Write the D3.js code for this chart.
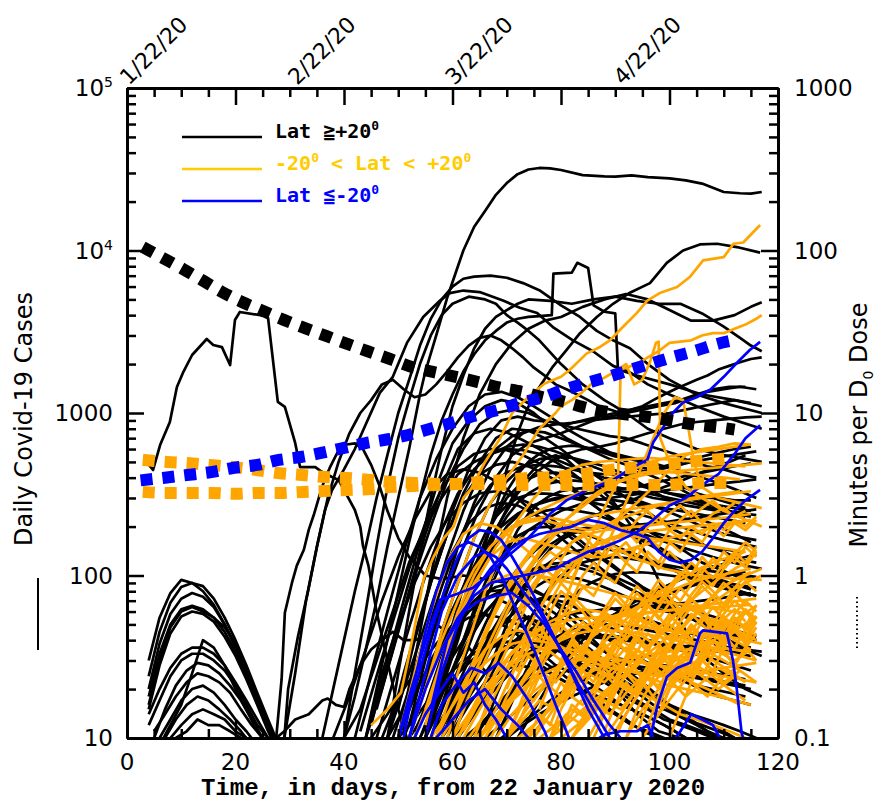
<!DOCTYPE html>
<html>
<head>
<meta charset="utf-8">
<script src="https://cdn.jsdelivr.net/npm/d3@7"></script>
<style>
  body { margin: 0; background: #fff; }
  svg { display: block; }
</style>
</head>
<body>
<svg id="chart" width="877" height="805"></svg>
<script>
// ---------------- axes / labels ----------------
const xMajorTicks = [0, 20, 40, 60, 80, 100, 120];
const xMinorTicks = [5, 10, 15, 25, 30, 35, 45, 50, 55, 65, 70, 75, 85, 90, 95, 105, 110, 115];
const dateLabels = ["1/22/20", "2/22/20", "3/22/20", "4/22/20"];
const dateDays = [0, 31, 60, 91];
const caseTicks = [10, 100, 1000, 1e4, 1e5];
const caseTickText = [["10", ""], ["100", ""], ["1000", ""], ["10", "4"], ["10", "5"]];
const doseTicks = [0.1, 1, 10, 100, 1000];
const doseTickText = ["0.1", "1", "10", "100", "1000"];

// ---------------- dose curves (right axis, minutes per D0 dose) ----------------
const doseNorth = [[2.9,105],[6.6,90],[10.3,77],[13.8,65.8],[17.5,55.6],[21.2,48.2],[25.1,42.4],[28.9,37.4],[32.8,33.3],[36.7,29.8],[40.6,26.6],[44.5,23.9],[48.5,21.5],[52.5,19.2],[56.4,17.9],[60.6,16.7],[64.7,15.5],[68.8,14.3],[72.8,13.5],[76.7,12.5],[80.7,11.7],[85,10.7],[89,10.1],[93.3,9.7],[97.7,9.3],[101.6,8.8],[105.6,8.4],[109.7,8.1],[112,7.9]];
const doseSouth = [[2.5,3.85],[7,4.0],[11,4.15],[15.5,4.33],[19.5,4.59],[24,4.79],[28,5.14],[32,5.36],[36.5,5.75],[40,6.1],[44,6.53],[48.5,6.92],[52.5,7.43],[56.4,8.09],[60.4,8.81],[64.5,9.7],[68.2,10.4],[72.4,11.5],[76.7,12.5],[80.5,13.9],[84.8,15.3],[88.7,16.7],[92.7,18.4],[96.9,20.3],[100.6,22.1],[104.7,24.1],[108.8,26.6],[112,28.1]];
const doseTropicA = [[2.9,5.14],[7.4,5.0],[11.2,4.92],[15.3,4.79],[19.5,4.65],[23.9,4.46],[27.8,4.27],[32.3,4.15],[36.5,4.04],[40.6,3.98],[45,3.87],[49,3.76],[53.3,3.71],[57.4,3.66],[60.4,3.66],[65,3.76],[70,3.87],[74,3.98],[78.5,4.04],[82.7,4.15],[86.8,4.33],[90,4.52],[95,4.65],[99,4.79],[103.4,5.0],[107.5,5.14],[111.2,5.28]];
const doseTropicB = [[2.9,3.27],[7.4,3.22],[11.6,3.22],[15.7,3.22],[19.9,3.18],[24.1,3.22],[28.2,3.22],[32.3,3.27],[36.5,3.31],[40.6,3.36],[45,3.41],[49,3.51],[53.1,3.56],[57.4,3.61],[61.5,3.66],[66,3.66],[70,3.61],[75,3.61],[80,3.61],[85,3.61],[90,3.61],[95,3.61],[99,3.61],[103.4,3.66],[107.5,3.71],[111.2,3.71]];

// ---------------- daily cases, Lat >= +20 (black) ----------------
// early winter humps: [firstDay, stepDays, values...]
const northEarly = [
  [4,2, 30,55,78,94,90,80,66,50,36,25,17,12,9],
  [4,2, 24,45,68,85,90,86,72,55,40,28,19,13,9],
  [4,2, 20,38,58,72,78,74,64,50,37,26,18,12,9],
  [4,2, 18,33,50,62,65,62,55,45,34,24,17,12,8],
  [4,2, 16,30,48,60,64,60,55,48,38,27,18,12,9],
  [4,2, 15,28,44,56,60,58,52,42,32,23,16,11,8],
  [4,2, 14,20,27,33,36,36,33,28,22,17,13,10,8],
  [4,2, 12,17,24,30,33,33,30,26,21,16,12,10,8],
  [5,2, 10,15,21,26,29,28,25,21,17,13,10,8],
  [5,2, 11,14,18,22,25,24,22,19,15,12,10,8],
  [6,2, 10,13,17,20,21,19,16,13,11,9],
  [7,2, 10,13,16,18,17,15,13,11,9],
  [8,2, 10,12,14,15,14,13,11,10,9],
  [9,2, 10,11,13,12,12,11,10,9],
  [6,2, 9,12,16,25,40,36,28,20,15,11,9]
];
const northMajor = [
  [[3.3,514],[4.8,446],[6.1,635],[7.9,881],[9.2,1445],[10.3,1763],[12,2275],[14.7,2853],[15.9,2620],[17.5,2545],[19,1973],[19.9,3733],[20.8,4185],[25.4,3955],[26,3845],[27.8,1170],[29.1,1090],[31,654],[31.9,465],[34.7,465],[35.9,435],[37.7,405],[39,387],[40,336],[42,253],[43,200],[43.5,152],[44.5,115],[46,60],[48,30],[50,15],[52,9]],
  [[40,10],[42,18],[44,35],[46,70],[48,150],[50,300],[52,600],[54,1300],[55,1800],[57,3000],[59,5100],[61,8000],[62,10000],[64,14000],[66,17500],[68,22000],[70,26000],[72,29500],[74,31500],[76,32200],[78,32000],[80,31300],[84,29100],[88,28600],[90,28500],[93,29000],[96,28300],[100,27800],[103,27000],[106,25800],[108,24300],[110,22900],[113,22500],[115,22400],[117,22900]],
  [[29,10],[29.7,20],[31.5,42],[33.4,81],[35,150],[36.5,253],[37.8,336],[40,450],[42,600],[44,850],[46.6,1330],[49,1670],[51.6,2700],[54.6,3900],[57.7,4920],[59.5,5470],[62,5670],[65,5550],[69.3,4920],[72.4,4440],[75.6,4120],[78.5,3380],[82.2,2800],[85.9,2400],[89.6,1950],[92.7,1780],[96,1500],[100,1300],[105,1100],[110,950],[117,800]],
  [[36,10],[38,20],[40,40],[42,80],[44,150],[46,300],[48,550],[50,1000],[52,1600],[54,2600],[56,3800],[58,5000],[60,6000],[62,6700],[64,6900],[67,7000],[70,6800],[73,6300],[76,5700],[80,4600],[83.5,3900],[86.6,3200],[89.6,2800],[92.7,2500],[96,2000],[100,1600],[105,1300],[110,1150],[117,1000]],
  [[40,10],[42,25],[44,60],[46,150],[48,350],[50,700],[52,1200],[54,2000],[56,3000],[58,4000],[60,4700],[63,5200],[66,5000],[68,4700],[70,4000],[72,3600],[74,3200],[76,2800],[80,2000],[84,1500],[88,1200],[92,1000],[96,800],[100,700],[105,600],[110,550],[117,500]],
  [[44,10],[46,20],[48,40],[50,80],[52,160],[54,300],[56,550],[58,900],[60,1300],[62,1800],[64,2300],[66,2800],[68,3200],[70,3600],[72,3800],[74,3900],[76,3950],[78.3,4000],[78.6,7200],[82,7300],[83,8400],[85,7800],[86,4600],[88,4200],[90,4100],[90.5,1850],[94,1700],[100,1500],[106,1300],[112,1200],[117,1100]],
  [[55,10],[58,20],[61,40],[64,90],[67,200],[70,450],[72,750],[73.7,1050],[76,1440],[78.5,1930],[81,2440],[83.5,3100],[86.6,3900],[89.6,4700],[92.7,5500],[96.4,6300],[99.5,8400],[102.5,10000],[105.6,10900],[108.8,11000],[112.4,10500],[116.7,9700]],
  [[48,10],[50,25],[52,60],[54,140],[56,300],[58,600],[60,1100],[62,1700],[64,2500],[66,3300],[68,3900],[70,4300],[72,4700],[74,5000],[78,4900],[82,4700],[86,5000],[90,5200],[94,4900],[98,4700],[102,4700],[106,4100],[110,3400],[113,2900],[115,2600],[117,2400]],
  [[50,10],[53,30],[56,100],[59,300],[62,700],[65,1300],[68,2000],[71,2700],[74,3300],[77,3700],[80,3900],[84,4500],[88,5000],[92,5400],[96,5000],[100,4300],[104,3700],[108,3700],[112,4000],[115,4500],[117,4800]],
  [[29,10],[31,25],[33,70],[35,150],[37,300],[39,500],[41,750],[43,1000],[45,1200],[47,1500],[49,1600],[51,1400],[53,1250],[55,1300],[57,1500],[59,1800],[61,2200],[63,2600],[65,2900],[67,3000],[69,2800],[71,2500],[73,2200],[75,1900],[77,1700],[79,1500],[81,1400],[83,1300],[85,1200],[87,1100],[89,1050],[91,1000],[93,1050],[95,1100],[97,1200],[99,1300],[101,1400],[103,1500],[105,1600],[107,1700],[109,1850],[111,1950],[113,2050],[115,2150],[117,2200]],
  [[27.5,10],[28.5,23],[29.1,59],[30.4,90],[31.3,115],[32.6,144],[33.5,191],[34.5,240],[35.6,320],[36.4,387],[37.5,470],[39,590],[40.5,640],[42,650],[43.5,600],[45,480],[46.5,360],[48,250],[50,170],[52,130],[55,100],[58,95],[62,100],[66,95],[70,90],[74,75],[78,55],[82,40],[86,30],[90,20],[94,14],[98,11],[102,10],[106,9]],
  [[27.5,10],[29,11],[31,13],[33.5,14],[36,17],[37,17.5],[38.5,16],[40,15.5],[41,20],[43,28],[45,35],[47,40],[49,45],[51,40],[53,40],[55,42],[57,50],[59,45],[61,55],[63,80],[65,120],[67,170],[69,220],[71,300],[73,380],[75,450],[77,520],[79,550],[81,520],[83,450],[85,400],[87,350],[89,300],[91,250],[93,200],[95,150],[97,110],[99,80],[101,60],[104,40],[107,30],[110,25],[114,20],[117,18]]
];
// mid-level and low-level northern curves: [firstDay, stepDays, values...]
const northMid = [
  [42,3, 10,25,60,140,300,520,800,1100,1300,1350,1250,1100,950,800,700,620,550,480,420,380,340,300,270,250,230],
  [44,3, 10,20,45,100,200,380,600,850,1000,1050,1000,900,850,800,760,720,700,650,600,560,500,470,450,420,400],
  [45,3, 12,30,70,160,350,650,900,1100,1200,1150,1000,820,700,620,580,540,520,480,420,360,320,300,280,260],
  [47,3, 10,18,40,90,180,320,500,700,800,780,700,600,500,420,360,300,260,220,190,170,150,140,125,120],
  [48,3, 10,25,55,120,250,450,700,900,950,900,880,850,900,950,1000,1050,1100,1150,1200,1300,1400,1450,1450],
  [50,3, 10,20,40,80,150,260,400,550,650,700,750,820,900,950,1000,1050,1100,1150,1250,1350,1400,1450,1400],
  [46,3, 15,35,80,180,350,600,750,800,760,680,600,520,470,430,400,380,360,340,320,310,300,300,290,290],
  [50,3, 10,25,60,130,250,420,600,720,780,760,700,640,580,520,480,460,450,470,500,520,540,560,580],
  [52,3, 10,20,45,90,170,280,380,470,520,540,530,500,470,430,380,330,290,250,220,200,180,160,150],
  [40,3, 10,15,30,60,120,200,300,420,500,560,600,590,560,500,430,360,300,250,210,180,160,140,120,110,100,95],
  [38,3, 10,18,35,70,130,220,330,420,450,430,380,320,260,210,170,140,120,100,85,75,65,60,55,50,45,42,40],
  [52,3, 12,30,70,150,280,450,620,750,820,850,870,900,920,940,960,980,1000,1050,1100,1150,1200,1150],
  [55,3, 10,25,55,110,200,300,380,420,430,410,380,350,330,320,300,290,270,260,250,240,230,220],
  [54,3, 10,18,35,70,130,220,320,420,500,560,600,620,650,700,750,800,850,880,900,920,940,950],
  [50,3, 15,40,90,180,300,420,480,500,470,420,370,320,270,230,200,170,150,130,115,100,90,80,75],
  [56,3, 10,20,40,70,110,150,190,220,250,270,290,300,310,320,330,340,350,360,370,380,390],
  [44,3, 10,25,50,90,150,220,280,320,330,310,280,240,200,170,140,120,100,85,75,65,55,50,45,42,40],
  [48,3, 10,20,40,80,140,210,260,280,270,240,210,180,150,130,110,95,80,70,60,52,45,40,35,32],
  [53,3, 10,20,40,70,110,160,200,230,250,260,250,240,220,200,190,180,170,160,150,145,140],
  [57,3, 10,18,30,50,80,110,140,170,200,220,240,260,290,320,350,380,420,460,500,550],
  [46,3, 10,22,48,100,190,320,450,560,620,640,620,580,530,480,440,400,370,340,320,300,280,270,260,250,245],
  [49,3, 10,20,42,85,160,260,360,430,470,480,470,450,430,420,420,430,450,480,510,540,570,600,620],
  [51,3, 10,18,34,62,100,150,200,240,270,290,300,300,295,290,280,270,260,250,240,230,220,210],
  [43,3, 11,24,52,110,210,340,470,560,600,590,550,490,420,350,290,240,200,170,150,130,115,105,95,88,82],
  [55,3, 10,22,45,85,140,200,250,280,300,310,320,330,340,350,370,390,410,430,450,470,490],
  [60,2, 40,60,90,130,180,230,280,320,350,370,380,385,380,370,360,350,340,330,320,310,300,290,280,270,260,250,245,240,235],
  [62,2, 30,45,70,100,140,190,240,280,310,330,340,345,340,330,320,305,290,275,260,245,230,215,200,190,180,175,170,165],
  [58,2, 20,35,60,100,160,240,330,420,500,560,600,620,630,620,600,580,560,540,520,500,480,460,440,420,400,380,360,340,320,300],
  [64,2, 15,22,34,50,70,95,120,145,165,180,190,195,198,200,202,205,208,210,215,220,225,230,235,240,245,250,255],
  [56,2, 15,28,50,85,130,180,230,270,300,315,320,318,310,300,290,280,270,260,250,240,230,220,210,200,190,180,172,165,160,155,150],
  [60,2, 25,40,62,90,120,150,175,190,198,200,196,190,182,172,162,152,142,134,126,118,112,106,100,95,90,86,82,78,75]
];
const northLow = [
  [50,3, 10,18,30,45,60,75,85,90,85,75,62,50,40,32,26,22,18,15,13,11,10,9],
  [52,3, 12,22,38,55,70,80,82,76,68,58,48,40,34,30,27,25,24,22,20,18,17,16],
  [55,3, 10,16,25,35,45,52,55,52,48,42,36,30,25,21,18,15,13,12,11,10],
  [48,3, 10,15,22,32,45,60,72,80,84,80,72,62,52,44,38,33,29,26,23,21,20,19,18],
  [58,3, 10,14,20,28,36,44,50,55,58,60,62,63,64,65,66,68,70,72,75,78],
  [45,3, 10,14,20,28,38,48,55,58,55,50,44,38,32,27,23,20,17,15,13,12,11,10,9],
  [60,3, 10,13,17,22,28,34,40,45,48,50,50,48,46,44,42,40,38,36,35,34],
  [53,3, 11,18,28,40,55,70,85,100,110,115,112,105,95,85,76,68,62,56,52,48,45,42],
  [62,3, 10,12,15,19,24,30,36,42,48,54,60,66,72,80,88,95,100,105],
  [56,3, 10,15,22,30,38,44,46,44,40,35,30,26,22,19,17,15,14,13,12,11,10],
  [50,3, 10,13,18,24,30,35,37,36,33,29,25,21,18,15,13,11,10,9],
  [64,3, 10,14,18,24,30,35,40,42,43,42,40,38,36,34,32,30,28,26],
  [58,3, 12,20,30,42,54,65,72,75,74,70,65,60,56,52,48,45,42,40,38,36],
  [66,3, 10,12,15,18,22,26,28,30,31,30,29,28,27,26,25,24,23],
  [70,3, 10,12,14,16,18,20,22,24,25,26,25,24,23,22,21,20],
  [60,3, 11,16,22,26,28,27,25,22,19,16,14,12,11,10,9],
  [57,3, 10,15,24,36,50,62,70,72,68,60,52,46,42,40,38,37,36,35,34,33],
  [59,3, 12,20,32,48,64,80,92,98,96,90,82,74,68,62,58,54,50,47,44],
  [61,3, 10,14,20,26,32,37,40,42,42,41,40,39,38,37,36,35,34,33,32],
  [54,3, 10,16,26,40,58,78,96,110,118,120,116,108,98,88,80,72,66,60,56,52,48],
  [63,3, 10,13,17,22,28,34,40,46,52,58,64,70,76,82,88,94,100,106],
  [66,3, 11,15,20,24,27,29,30,30,29,28,27,26,25,24,23,22,21],
  [69,3, 10,12,14,17,20,23,26,28,30,32,34,36,38,40,42,44],
  [52,3, 10,14,19,25,31,36,39,40,38,35,31,27,23,20,17,15,13,12,11,10,9],
  [58,3, 10,17,28,44,64,86,108,128,140,146,146,140,130,120,110,100,92,85,80,75],
  [60,3, 10,18,32,55,85,120,155,180,195,200,196,188,176,162,150,140,130,122,115,110],
  [66,2, 12,18,26,38,52,68,85,100,112,120,125,128,130,128,125,122,118,115,112,110,108,106,104,102,100,98],
  [68,2, 10,14,20,28,38,50,62,74,84,92,98,102,104,105,104,102,100,98,96,94,92,90,88,86,84],
  [72,2, 10,13,17,22,28,34,40,46,52,58,64,70,76,82,88,94,100,106,112,118,125,130,135],
  [55,2, 10,15,22,32,45,60,55,70,65,58,50,44,40,36,32,30,28,25,22,20,18,16,15,14,13,12,11,10,9],
  [57,2, 12,18,26,36,30,42,50,46,40,35,32,28,26,24,22,20,18,16,15,14,13,12,11,10,9],
  [59,2, 10,14,20,28,24,32,38,34,30,27,24,22,20,19,18,17,16,15,14,13,12,11,10],
  [62,2, 15,22,30,40,36,48,56,50,44,40,36,33,30,28,26,24,22,20,18,16,15,14,13,12,11,10]
];

// ---------------- daily cases, -20 < Lat < +20 (orange) ----------------
const tropicMajor = [
  [[45,12],[48,15],[50.5,19],[51.6,28],[52.8,44],[54.7,96],[56.5,130],[58.4,170],[60.2,200],[62,300],[63.4,340],[66,500],[68.8,700],[71,1000],[74,1260],[77,1520],[80,1670],[81.6,1840],[84.7,2320],[87.2,2550],[89,2800],[91.4,3380],[94,4130],[95.9,4920],[98.2,5470],[101.4,5960],[103.8,6900],[106.2,8700],[110,9100],[111.8,11000],[113.6,11200],[116.7,14350]],
  [[52,10],[55,20],[58,45],[61,90],[64,170],[67,280],[70,400],[73,550],[76,800],[79,1000],[80,1100],[82,1200],[84,1350],[86,1550],[88,1650],[90,1800],[92,1900],[94,2000],[96,2200],[98,2400],[100,2700],[102,2750],[104,2800],[106,3000],[108,3100],[110,3100],[112,3300],[114,3500],[116,3800],[117,4000]],
  [[70,10],[73,18],[76,30],[79,50],[82,90],[85,160],[88,260],[90.5,380],[91,1900],[92,2000],[93.5,1500],[95,1600],[96.5,2100],[97.5,2700],[98,2750],[98.3,700],[100,500],[103,350],[106,300],[110,250],[114,220],[117,200]],
  [[86,100],[90,200],[94,400],[97,700],[99,1000],[101,1250],[102.5,1200],[103.5,800],[104.5,500],[106,350],[109,300],[113,280],[117,260]]
];
const tropicMid = [
  [52,3, 10,20,40,70,110,150,190,220,250,280,310,340,380,420,460,500,540,560,580,600,620,640],
  [55,3, 12,30,60,100,150,190,210,220,210,200,190,200,230,280,350,450,550,600,620,650,640],
  [50,3, 10,25,60,120,180,210,200,170,140,110,90,70,55,45,38,33,28,25,22,20,18,16],
  [53,3, 10,18,35,60,100,150,200,220,230,220,210,200,210,230,250,270,280,300,310,320,330],
  [57,3, 10,20,40,80,140,220,300,380,440,480,500,510,520,530,520,510,500,490,480,470],
  [60,3, 10,18,30,50,80,120,170,220,280,330,370,400,420,430,440,450,460,470,480,490],
  [58,3, 10,15,25,40,65,100,140,180,210,230,240,250,260,270,280,290,300,310,320,330],
  [61,3, 10,16,26,42,65,95,130,160,180,190,195,200,205,210,215,220,225,230,240],
  [55,3, 15,30,55,90,130,160,170,160,150,140,130,130,140,150,160,170,180,190,200,210,220],
  [63,3, 10,14,22,35,55,80,110,140,160,170,175,170,165,160,155,150,145,140],
  [65,3, 10,15,25,40,60,90,120,150,170,180,185,190,195,200,205,210,215],
  [52,3, 10,20,35,55,75,90,100,105,100,95,90,85,80,75,72,70,68,66,64,62,60,58],
  [60,3, 12,25,45,75,110,150,180,190,185,170,150,130,120,110,105,100,98,96,95,94],
  [59,3, 10,20,35,60,95,130,170,210,250,300,350,400,430,440,430,420,410,400,390],
  [84,2, 20,28,38,32,44,58,50,64,80,70,88,100,86,110,130,112,140],
  [80,2, 18,26,36,30,42,56,48,62,78,68,86,104,90,112,96,118,140,120,150],
  [76,2, 15,22,30,40,34,46,60,52,68,86,74,94,80,100,120,104,128,110,136,160,140],
  [62,2, 20,30,45,60,80,100,90,120,140,125,160,180,150,190,210,180,220,250,210,240,270,230,260,290,250,280],
  [66,2, 15,25,35,50,70,60,85,110,95,130,150,130,170,190,160,200,230,190,220,250,210,240,260,230,250],
  [70,2, 20,30,45,40,60,80,70,100,120,100,140,160,130,170,150,190,170,200,180,210,190,220,200,230],
  [68,2, 30,45,60,80,100,90,120,110,140,130,160,140,120,150,130,110,140,120,100,130,110,140,120,150,130],
  [74,2, 25,35,50,45,65,85,75,100,90,120,105,140,120,160,140,180,160,200,175,210,190,220]
];
const tropicLow = [
  [60,3, 10,14,20,28,36,45,52,58,62,60,55,50,48,46,45,44,43,42,40,38],
  [62,3, 10,15,22,30,38,35,42,50,45,55,60,52,48,58,62,55,50,45,40],
  [64,3, 10,12,16,20,26,22,30,35,28,40,45,38,50,42,55,48,40,35],
  [66,3, 11,15,20,17,24,30,26,34,40,32,28,36,42,38,30,26,22],
  [68,3, 10,14,18,22,18,26,32,28,36,30,24,30,36,28,22,26],
  [70,3, 10,13,17,15,20,25,22,28,35,30,26,32,38,34,30,35],
  [72,3, 10,12,15,19,16,22,28,24,20,26,32,28,24,20,17],
  [74,3, 10,13,11,16,20,18,24,30,26,22,28,34,30,26,22],
  [76,3, 10,12,15,13,18,22,19,26,32,28,24,20,24],
  [78,3, 10,14,12,17,22,19,25,30,26,34,40,35],
  [80,3, 10,12,16,14,19,24,21,27,22,18,24,28],
  [82,3, 10,13,17,15,20,26,23,18,22,27,24],
  [57,3, 10,16,25,35,42,46,44,40,35,30,26,23,20,18,16,14,13,12,11,10,9],
  [56,3, 10,14,20,27,33,38,40,39,36,32,29,27,26,25,24,24,25,26,27,28,29],
  [62,3, 11,17,25,34,42,48,52,54,55,56,57,58,60,62,64,66,68,70,72],
  [67,3, 10,15,22,30,38,45,50,54,56,58,60,61,62,63,64,65,66],
  [70,3, 10,14,19,25,32,40,48,56,64,72,80,88,95,100,105,110],
  [75,3, 10,14,20,27,36,46,58,70,82,95,108,120,130,140],
  [85,3, 10,15,22,30,40,52,66,80,95,110,125],
  [88,3, 10,14,20,28,38,50,64,80,95,105],
  [90,3, 11,16,24,34,46,60,75,90,100,110],
  [92,3, 10,15,20,26,33,40,48,56,65,70],
  [95,3, 10,14,19,25,32,40,48,56],
  [68,3, 12,18,26,34,40,44,46,46,45,44,42,40,38,36,34,32,30,28],
  [73,3, 10,13,17,21,25,28,30,32,33,34,35,36,36,35,34],
  [78,3, 10,12,15,18,22,27,33,40,48,58,68,80,90,100],
  [61,3, 10,15,21,27,32,35,36,35,33,30,27,25,23,21,20,19,18,17,16],
  [65,3, 10,13,17,21,25,28,30,31,31,30,29,28,27,26,25,24,23,22],
  [74,2, 10,14,12,18,24,20,28,36,30,26,34,44,38,30,36,48,40,32,42,55,46],
  [76,2, 12,16,22,18,26,34,28,38,48,40,52,44,36,46,58,50,42,54,62,52],
  [78,2, 10,15,20,26,22,30,40,34,44,56,48,40,52,64,56,46,58,70,60,50],
  [80,2, 11,16,14,20,27,23,32,42,36,28,38,48,40,34,44,56,48,40,52],
  [82,2, 10,13,18,15,22,30,26,20,28,36,30,24,32,40,34,28,36,30],
  [84,2, 12,18,25,21,30,40,34,46,58,48,40,52,64,54,46,38,48],
  [86,2, 10,14,19,25,21,28,36,30,40,50,42,54,46,58,70,60,72],
  [88,2, 11,16,22,18,26,34,28,38,30,40,52,44,36,46,56,48],
  [90,2, 10,14,18,24,20,28,36,30,24,32,42,36,46,56],
  [92,2, 10,15,20,16,22,30,26,34,44,38,50,62,54,66],
  [94,2, 11,16,14,20,26,22,30,40,34,28,36,44],
  [70,2, 10,14,19,26,34,30,40,52,44,58,72,62,50,64,80,68,56,70,86,74,62,76,92,80],
  [72,2, 12,17,24,20,28,38,32,44,56,48,62,78,66,54,68,84,72,60,74,90,78,66],
  [64,2, 10,15,22,30,26,36,48,40,54,70,60,48,62,78,66,54,70,86,74,60,76,92,80,66,84,100],
  [66,2, 10,13,18,24,32,28,38,50,42,34,46,60,50,40,52,66,56,46,58,72,62,50,64,78,66],
  [96,2, 12,18,26,22,32,44,38,52,46,60],
  [100,2, 10,15,22,30,26,36,48,42,56],
  [98,2, 14,20,28,24,34,46,40,54,48,66]
];

// ---------------- daily cases, Lat <= -20 (blue) ----------------
const southLines = [
  [[50,10],[52,18],[54,30],[56,50],[57.7,71],[60.8,77],[63.8,84],[66.9,103],[70,130],[73,158],[76,200],[78,240],[81,290],[84.8,336],[89.6,387],[93.3,465],[95.9,514],[97,660],[100.6,1000],[102.5,1160],[105,1250],[107.5,1390],[110,1670],[112.4,2030],[114.8,2440],[116.7,2740]],
  [[50,10],[53,20],[56,45],[59,90],[61,130],[63,170],[65,190],[67,185],[69,165],[71,130],[73,100],[75,75],[77,55],[79,40],[81,30],[83,22],[85,17],[87,13],[89,10],[91,8]],
  [[52,10],[55,25],[58,60],[61,100],[64,130],[66,140],[68,130],[70,110],[73,80],[76,60],[79,40],[82,25],[85,15],[88,10],[90,8]],
  [[56,15],[59,40],[62,60],[65,70],[68,75],[71,78],[74,65],[77,50],[80,35],[83,25],[86,17],[89,12],[91,10],[93,8]],
  [[52,10],[55,20],[58,35],[61,55],[64,75],[67,90],[70,95],[73,100],[76,105],[79,110],[82,125],[85,140],[88,150],[91,165],[94,185],[97,220],[100,270],[103,300],[106,360],[109,420],[112,560],[114,700],[116.7,840]],
  [[55,10],[58,25],[61,50],[64,80],[67,110],[70,140],[73,165],[76,180],[79,190],[82,200],[85,220],[88,210],[91,190],[94,180],[96,170],[98,140],[100,125],[102,120],[104,125],[106,140],[108,170],[110,210],[112,250],[114,290],[116.7,336]],
  [[96.5,10],[97.7,15.5],[99.5,23.7],[101.4,27],[103.8,29],[105.6,44],[106.2,46],[110.6,44],[111.7,30],[112.4,20],[113.3,10.7],[114,9]],
  [[56,10],[58,16],[61,22],[63.5,27],[66,25],[68.5,29],[71,24],[74,17],[77,11],[78,9]],
  [[53,10],[55,14],[58,20],[60,25],[62,19],[64,22],[66,16],[68,13],[70,10],[71,9]],
  [[57,10],[60,13],[63,17],[66,20],[69,15],[72,12],[74,10],[75,9]],
  [[85,9],[88,10.5],[91,11],[94,11],[96,12],[97,10],[98,9]],
  [[100,9],[102,11],[104,14],[106,13],[108,12],[110,9]],
  [[51,10],[53,22],[55,45],[57,80],[59,120],[61,150],[63,160],[65,150],[67,130],[69,100],[71,70],[73,50],[75,35],[77,24],[79,16],[81,11],[82,9]]
];

// ---------------- chart ----------------
const svg = d3.select("#chart");
const plot = { left: 127, right: 778, top: 88, bottom: 738 };

const x = d3.scaleLinear().domain([0, 120]).range([plot.left, plot.right]);
const y = d3.scaleLog().domain([10, 1e5]).range([plot.bottom, plot.top]);
const yDose = d3.scaleLog().domain([0.1, 1000]).range([plot.bottom, plot.top]);

const BLACK = "#000000", ORANGE = "#ffa500", BLUE = "#0000ff", LEGEND_ORANGE = "#ffcc00";

svg.append("defs").append("clipPath").attr("id", "plotClip")
  .append("rect")
  .attr("x", plot.left).attr("y", plot.top)
  .attr("width", plot.right - plot.left).attr("height", plot.bottom - plot.top);

// turn a compact [firstDay, step, v...] series or an explicit [[day, v], ...] series into points
function toPoints(s) {
  if (Array.isArray(s[0])) return s;
  const [d0, dt, ...vals] = s;
  return vals.map((v, i) => [d0 + i * dt, v]).filter(p => p[0] <= 117.5);
}

const caseLine = d3.line().x(d => x(d[0])).y(d => y(d[1]));
const doseLine = d3.line().x(d => x(d[0])).y(d => yDose(d[1])).curve(d3.curveMonotoneX);

const dataLayer = svg.append("g").attr("clip-path", "url(#plotClip)");

function drawGroup(series, color) {
  dataLayer.append("g")
    .selectAll("path")
    .data(series.map(toPoints))
    .join("path")
    .attr("d", caseLine)
    .attr("fill", "none")
    .attr("stroke", color)
    .attr("stroke-width", 2.7)
    .attr("stroke-linejoin", "round");
}

drawGroup(northEarly, BLACK);
drawGroup(northLow, BLACK);
drawGroup(northMid, BLACK);
drawGroup(northMajor, BLACK);
drawGroup(tropicLow, ORANGE);
drawGroup(tropicMid, ORANGE);
drawGroup(tropicMajor, ORANGE);
drawGroup(southLines, BLUE);

// thick dashed dose curves on the right-hand axis
const doseCurves = [
  { pts: doseNorth, color: BLACK },
  { pts: doseTropicB, color: ORANGE },
  { pts: doseTropicA, color: ORANGE },
  { pts: doseSouth, color: BLUE }
];
dataLayer.append("g")
  .selectAll("path")
  .data(doseCurves)
  .join("path")
  .attr("d", d => doseLine(d.pts))
  .attr("fill", "none")
  .attr("stroke", d => d.color)
  .attr("stroke-width", 12)
  .attr("stroke-dasharray", "12,10")
  .attr("stroke-linecap", "butt");

// ---------------- axes ----------------
const axisFont = "DejaVu Sans, Verdana, sans-serif";

function minorLog(lo, hi) {
  const out = [];
  for (let p = lo; p < hi; p *= 10) for (let m = 2; m <= 9; m++) out.push(p * m);
  return out;
}

function styleAxis(g) {
  g.select(".domain").attr("stroke-width", 3).attr("stroke", "#000");
  g.selectAll(".tick line").attr("stroke-width", 2.5).attr("stroke", "#000");
  g.selectAll(".tick text").remove();
}

// bottom
svg.append("g").attr("transform", `translate(0,${plot.bottom})`)
  .call(d3.axisBottom(x).tickValues(xMajorTicks).tickSizeInner(-17).tickSizeOuter(0))
  .call(styleAxis);
svg.append("g").attr("transform", `translate(0,${plot.bottom})`)
  .call(d3.axisBottom(x).tickValues(xMinorTicks).tickSizeInner(-9).tickSizeOuter(0))
  .call(styleAxis);
// top
svg.append("g").attr("transform", `translate(0,${plot.top})`)
  .call(d3.axisTop(x).tickValues(xMajorTicks).tickSizeInner(-17).tickSizeOuter(0))
  .call(styleAxis);
svg.append("g").attr("transform", `translate(0,${plot.top})`)
  .call(d3.axisTop(x).tickValues(xMinorTicks).tickSizeInner(-9).tickSizeOuter(0))
  .call(styleAxis);
// left
svg.append("g").attr("transform", `translate(${plot.left},0)`)
  .call(d3.axisLeft(y).tickValues(caseTicks).tickSizeInner(-17).tickSizeOuter(0))
  .call(styleAxis);
svg.append("g").attr("transform", `translate(${plot.left},0)`)
  .call(d3.axisLeft(y).tickValues(minorLog(10, 1e5)).tickSizeInner(-9).tickSizeOuter(0))
  .call(styleAxis);
// right
svg.append("g").attr("transform", `translate(${plot.right},0)`)
  .call(d3.axisRight(yDose).tickValues(doseTicks).tickSizeInner(-17).tickSizeOuter(0))
  .call(styleAxis);
svg.append("g").attr("transform", `translate(${plot.right},0)`)
  .call(d3.axisRight(yDose).tickValues(minorLog(0.1, 1000)).tickSizeInner(-9).tickSizeOuter(0))
  .call(styleAxis);

// tick labels
svg.append("g").selectAll("text")
  .data(xMajorTicks).join("text")
  .attr("x", d => x(d)).attr("y", plot.bottom + 32)
  .attr("text-anchor", "middle")
  .attr("font-family", axisFont).attr("font-size", 23)
  .text(d => d);

const leftLabels = svg.append("g").selectAll("text")
  .data(caseTicks.map((v, i) => ({ v, t: caseTickText[i] }))).join("text")
  .attr("x", plot.left - 14).attr("y", d => y(d.v) + 8)
  .attr("text-anchor", "end")
  .attr("font-family", axisFont).attr("font-size", 23);
leftLabels.append("tspan").text(d => d.t[0]);
leftLabels.filter(d => d.t[1]).append("tspan")
  .attr("dy", -9).attr("font-size", 14).text(d => d.t[1]);

svg.append("g").selectAll("text")
  .data(doseTicks.map((v, i) => ({ v, t: doseTickText[i] }))).join("text")
  .attr("x", plot.right + 16).attr("y", d => yDose(d.v) + 8)
  .attr("text-anchor", "start")
  .attr("font-family", axisFont).attr("font-size", 23)
  .text(d => d.t);

// calendar dates on the top axis
svg.append("g").selectAll("text")
  .data(dateDays.map((d, i) => ({ d, t: dateLabels[i] }))).join("text")
  .attr("transform", d => `translate(${x(d.d) + 2},${plot.top - 2}) rotate(-45)`)
  .attr("font-family", axisFont).attr("font-size", 22)
  .text(d => d.t);

// axis titles
svg.append("text")
  .attr("x", 453).attr("y", 795)
  .attr("text-anchor", "middle")
  .attr("font-family", "Liberation Mono, DejaVu Sans Mono, monospace")
  .attr("font-size", 24).attr("font-weight", "bold")
  .text("Time, in days, from 22 January 2020");

svg.append("text")
  .attr("transform", "translate(32,419) rotate(-90)")
  .attr("text-anchor", "middle")
  .attr("font-family", axisFont).attr("font-size", 24)
  .text("Daily Covid-19 Cases");
svg.append("line")
  .attr("x1", 38).attr("x2", 38).attr("y1", 578).attr("y2", 650)
  .attr("stroke", "#000").attr("stroke-width", 2);

const rightTitle = svg.append("text")
  .attr("transform", "translate(867,425) rotate(-90)")
  .attr("text-anchor", "middle")
  .attr("font-family", axisFont).attr("font-size", 24);
rightTitle.append("tspan").text("Minutes per D");
rightTitle.append("tspan").attr("font-size", 14).attr("dy", 6).text("0");
rightTitle.append("tspan").attr("dy", -6).text(" Dose");
svg.append("line")
  .attr("x1", 857).attr("x2", 857).attr("y1", 597).attr("y2", 648)
  .attr("stroke", "#000").attr("stroke-width", 2).attr("stroke-dasharray", "1.5,3");

// ---------------- legend ----------------
const legendItems = [
  { color: BLACK, parts: [["Lat ≧+20", 0], ["0", 1]] },
  { color: LEGEND_ORANGE, parts: [["-20", 0], ["0", 1], [" < Lat < +20", 0], ["0", 1]] },
  { color: BLUE, parts: [["Lat ≦-20", 0], ["0", 1]] }
];
const legend = svg.append("g");
legendItems.forEach((item, i) => {
  const ly = 137 + i * 32;
  legend.append("line")
    .attr("x1", 182).attr("x2", 262).attr("y1", ly).attr("y2", ly)
    .attr("stroke", item.color).attr("stroke-width", 2.4);
  const t = legend.append("text")
    .attr("x", 275).attr("y", ly + 1)
    .attr("fill", item.color)
    .attr("font-family", "DejaVu Sans Mono, monospace")
    .attr("font-size", 20).attr("font-weight", "bold");
  let raised = false;
  item.parts.forEach(([txt, sup]) => {
    const sp = t.append("tspan").text(txt);
    if (sup && !raised) { sp.attr("dy", -8).attr("font-size", 13); raised = true; }
    else if (!sup && raised) { sp.attr("dy", 8); raised = false; }
    else if (sup) { sp.attr("font-size", 13); }
  });
});
</script>
</body>
</html>
